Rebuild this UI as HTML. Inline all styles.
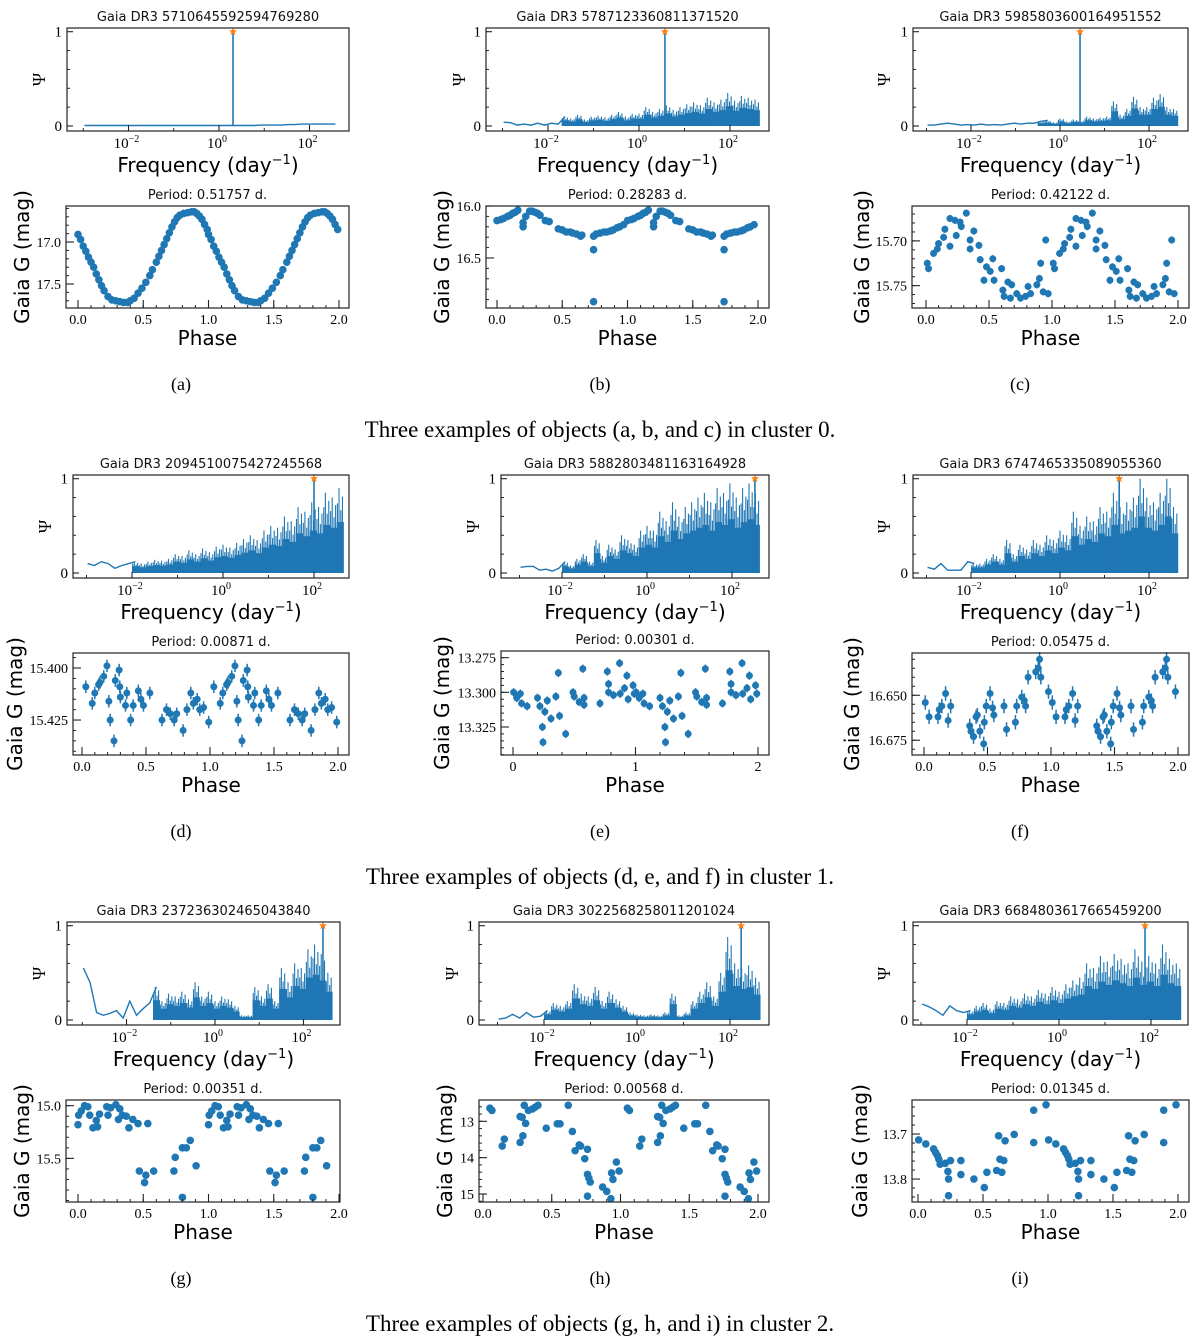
<!DOCTYPE html>
<html><head><meta charset="utf-8">
<style>
html,body{margin:0;padding:0;background:#fff;}
svg{display:block;}
.sans{font-family:"DejaVu Sans","Liberation Sans",sans-serif;}
.serif{font-family:"Liberation Serif","DejaVu Serif",serif;}
</style></head>
<body>
<svg id="fig" width="1200" height="1342" viewBox="0 0 1200 1342" xmlns="http://www.w3.org/2000/svg"></svg>
<script>
// ---- periodogram values (38 bins of 0.15 dex from log f = -3.05) ----
const pgA = [.005,.005,.005,.005,.005,.005,.005,.005,.005,.005,.005,.005,.005,.005,.005,.005,.005,.005,.005,.005,.005,.005,.005,.005,.005,.005,.01,.01,.01,.01,.015,.015,.02,.02,.02,.02,.02,.02];
const pgB = [.04,.035,.01,.02,.01,.03,.01,.03,.02,.10,.08,.12,.07,.10,.11,.09,.12,.15,.10,.13,.13,.20,.15,.18,.22,.17,.20,.23,.25,.22,.30,.25,.28,.35,.27,.32,.30,.28];
const pgC = [.01,.01,.02,.03,.02,.01,.015,.01,.02,.01,.015,.01,.02,.03,.02,.03,.03,.05,.06,.04,.08,.05,.07,.06,.1,.08,.09,.1,.26,.12,.18,.31,.2,.2,.3,.34,.2,.18];
const pgD = [.10,.08,.12,.10,.05,.08,.10,.12,.10,.12,.14,.13,.15,.20,.18,.24,.20,.26,.22,.28,.30,.27,.32,.36,.40,.35,.45,.50,.48,.60,.55,.70,.65,.75,.70,.85,.80,.90];
const pgE = [.06,.07,.07,.03,.04,.02,.05,.12,.08,.15,.20,.12,.35,.18,.30,.25,.40,.35,.30,.45,.50,.45,.65,.55,.75,.60,.70,.75,.80,.85,.75,.90,.85,.95,.80,.90,.95,.85];
const pgF = [.06,.04,.10,.03,.03,.03,.12,.10,.10,.15,.20,.15,.35,.20,.30,.25,.35,.30,.40,.35,.45,.40,.65,.50,.60,.55,.70,.65,.85,.70,.75,.80,1.0,.80,.75,.85,1.0,.70];
const pgG = [.55,.40,.08,.05,.07,.10,.02,.20,.05,.12,.18,.35,.20,.28,.25,.30,.22,.40,.25,.30,.20,.25,.22,.15,.05,.05,.35,.25,.38,.20,.55,.40,.60,.55,.75,.80,.70,.50];
const pgH = [.01,.02,.06,.02,.08,.03,.04,.10,.18,.15,.20,.38,.28,.25,.35,.20,.30,.22,.15,.08,.06,.05,.06,.05,.08,.28,.05,.08,.20,.30,.40,.25,.50,.88,.60,.55,.58,.45];
const pgI = [.17,.14,.10,.05,.15,.10,.08,.10,.15,.18,.12,.20,.18,.25,.22,.28,.25,.32,.28,.35,.30,.38,.42,.45,.60,.55,.68,.62,.70,.65,.60,.75,.62,.68,.60,.80,.65,.60];
const peakLogs = [0.31, 0.57, 0.45, 2.0, 2.54, 1.33, 2.44, 2.24, 1.87];
const denseFrom = [9, -1.7, -0.5, -2.1, -2.0, -2.0, -1.5, -2.0, -2.0];

// ---- phase-folded light curves ----
const phA = [0,.02,.04,.06,.08,.10,.12,.14,.16,.18,.20,.23,.26,.29,.32,.35,.38,.40,.43,.46,.49,.52,.55,.57,.60,.62,.64,.66,.68,.70,.72,.74,.76,.78,.81,.84,.87,.89,.91,.93,.95,.97,.99];
const mgA = [16.91,16.97,17.05,17.11,17.18,17.24,17.30,17.38,17.45,17.52,17.58,17.65,17.69,17.70,17.71,17.72,17.72,17.70,17.67,17.61,17.55,17.48,17.40,17.33,17.24,17.17,17.10,17.03,16.96,16.89,16.82,16.76,16.71,16.68,16.66,16.65,16.64,16.64,16.66,16.69,16.73,16.79,16.85];
const phB = [0,.03,.05,.08,.10,.12,.14,.16,.2,.2,.22,.25,.27,.29,.31,.33,.37,.40,.47,.50,.53,.56,.58,.61,.64,.65,.74,.74,.74,.76,.79,.82,.84,.87,.89,.92,.94,.97];
const mgB = [16.14,16.13,16.12,16.10,16.09,16.07,16.06,16.04,16.20,16.16,16.10,16.05,16.05,16.06,16.07,16.09,16.14,16.15,16.22,16.23,16.25,16.25,16.26,16.27,16.29,16.28,16.42,16.29,16.92,16.27,16.26,16.25,16.25,16.24,16.23,16.21,16.20,16.18];
const phC = [.01,.02,.06,.09,.1,.14,.15,.19,.19,.23,.24,.27,.28,.32,.35,.35,.38,.42,.43,.46,.48,.51,.53,.54,.6,.61,.62,.65,.67,.68,.72,.75,.79,.81,.83,.88,.90,.91,.93,.95,.97];
const mgC = [15.725,15.731,15.714,15.709,15.703,15.696,15.687,15.675,15.706,15.677,15.694,15.679,15.684,15.669,15.709,15.699,15.689,15.705,15.721,15.744,15.729,15.734,15.720,15.744,15.731,15.755,15.762,15.746,15.764,15.749,15.759,15.764,15.762,15.751,15.759,15.749,15.742,15.725,15.757,15.699,15.759];
const phD = [.03,.08,.10,.13,.14,.17,.195,.21,.22,.25,.26,.29,.295,.30,.34,.35,.38,.40,.44,.46,.48,.53,.625,.66,.69,.72,.74,.79,.82,.85,.87,.90,.92,.95,.99];
const mgD = [15.409,15.417,15.412,15.408,15.407,15.404,15.399,15.416,15.425,15.435,15.406,15.401,15.409,15.414,15.418,15.412,15.425,15.418,15.411,15.415,15.418,15.412,15.425,15.420,15.422,15.425,15.422,15.430,15.420,15.412,15.417,15.415,15.420,15.419,15.426];
const phE = [.005,.03,.06,.07,.115,.2,.22,.24,.245,.26,.28,.31,.35,.37,.38,.43,.49,.50,.54,.57,.58,.58,.71,.77,.78,.78,.82,.87,.875,.91,.93,.94,.98,.99];
const mgE = [13.300,13.304,13.301,13.308,13.310,13.304,13.310,13.325,13.336,13.314,13.306,13.319,13.303,13.286,13.317,13.330,13.300,13.303,13.307,13.283,13.304,13.309,13.308,13.285,13.294,13.300,13.302,13.279,13.301,13.297,13.288,13.305,13.295,13.301];
const phF = [.01,.04,.11,.12,.14,.17,.19,.21,.36,.37,.39,.41,.42,.44,.47,.475,.49,.52,.54,.55,.63,.65,.72,.73,.77,.79,.80,.82,.88,.90,.91,.92,.98];
const mgF = [16.654,16.662,16.662,16.658,16.656,16.649,16.664,16.656,16.667,16.670,16.673,16.662,16.661,16.670,16.677,16.665,16.656,16.649,16.657,16.661,16.656,16.669,16.665,16.656,16.651,16.653,16.656,16.640,16.637,16.635,16.630,16.640,16.648];
const phG = [0,.005,.025,.05,.075,.09,.115,.14,.15,.165,.22,.23,.25,.29,.31,.32,.34,.37,.39,.42,.46,.47,.51,.52,.535,.58,.735,.745,.80,.80,.83,.86,.905];
const mgG = [15.18,15.09,15.05,15.00,15.01,15.09,15.21,15.14,15.20,15.08,15.01,15.09,15.02,14.99,15.13,15.03,15.09,15.10,15.21,15.13,15.17,15.62,15.73,15.66,15.17,15.62,15.62,15.49,15.40,15.87,15.40,15.33,15.57];
const phH = [.05,.065,.14,.155,.27,.27,.285,.29,.30,.31,.33,.36,.38,.40,.46,.54,.56,.62,.65,.67,.70,.71,.74,.76,.76,.76,.77,.78,.87,.90,.93,.935,.945,.97,.99];
const mgH = [12.64,12.70,13.68,13.49,13.58,12.87,12.89,13.40,12.56,13.06,12.70,12.66,12.61,12.56,13.19,13.07,13.07,12.56,13.28,13.81,13.65,13.68,14.03,13.77,14.46,15.06,14.56,14.67,14.81,14.93,15.13,14.42,14.60,14.12,14.37];
const phI = [.005,.06,.12,.135,.15,.16,.17,.21,.23,.235,.235,.25,.33,.33,.43,.51,.53,.605,.62,.63,.645,.66,.67,.74,.89,.89,.985];
const mgI = [13.713,13.722,13.733,13.741,13.748,13.756,13.767,13.765,13.783,13.800,13.837,13.759,13.759,13.790,13.800,13.819,13.785,13.781,13.704,13.756,13.785,13.759,13.715,13.701,13.647,13.719,13.635];

// tick labels
const magTicksA = [17.0, 17.5], magTicksB = [16.0, 16.5], magTicksC = [15.70, 15.75];
const magTicksD = [15.400, 15.425], magTicksE = [13.275, 13.300, 13.325], magTicksF = [16.650, 16.675];
const magTicksG = [15.0, 15.5], magTicksH = [13, 14, 15], magTicksI = [13.7, 13.8];
const phaseTicks = [0, 0.5, 1, 1.5, 2], phaseTicksInt = [0, 1, 2];
const freqTicks = [-2, 0, 2];

const titles = ["5710645592594769280","5787123360811371520","5985803600164951552","2094510075427245568","5882803481163164928","6747465335089055360","237236302465043840","3022568258011201024","6684803617665459200"];
const periods = ["0.51757","0.28283","0.42122","0.00871","0.00301","0.05475","0.00351","0.00568","0.01345"];

const BLUE = "#1f77b4", ORANGE = "#ff7f0e", AX = "#222";
const NS = "http://www.w3.org/2000/svg";
const fig = document.getElementById("fig");
function mk(tag, attrs, parent) {
  const e = document.createElementNS(NS, tag);
  for (const k in attrs) e.setAttribute(k, attrs[k]);
  (parent || fig).appendChild(e);
  return e;
}

const cfg = [
 {pg:[67,28,349,131], pg0:219, dec:45.25, ph:[66,206,349,308], x0:78, x2:339, mt:16.571, mb:17.786, ticks:magTicksA, fmt:1, minor:0.1, pts:[phA,mgA], err:0, r:3.8, ylab:22, psi:39},
 {pg:[486,28,769,131], pg0:639, dec:45.5, ph:[486,206,769,308], x0:497, x2:758, mt:16.0, mb:16.981, ticks:magTicksB, fmt:1, minor:0.1, pts:[phB,mgB], err:0, r:3.8, ylab:442, psi:459},
 {pg:[913,28,1188,131], pg0:1060, dec:44.5, ph:[912,206,1189,308], x0:926, x2:1178, mt:15.661, mb:15.775, ticks:magTicksC, fmt:2, minor:0.01, pts:[phC,mgC], err:0.004, r:3.5, ylab:862, psi:884},
 {pg:[73,475,349,578], pg0:223, dec:45.5, ph:[73,653,349,755], x0:82, x2:338, mt:15.3928, mb:15.4418, ticks:magTicksD, fmt:3, minor:0.005, pts:[phD,mgD], err:0.003, r:3.5, ylab:15, psi:45},
 {pg:[501,475,769,578], pg0:647, dec:42.5, ph:[501,651,769,755], x0:513, x2:758, mt:13.2702, mb:13.3452, ticks:magTicksE, fmt:3, minor:0.005, pts:[phE,mgE], err:0.003, r:3.5, ylab:442, psi:473, intPhase:true},
 {pg:[913,475,1188,578], pg0:1060, dec:44.5, ph:[912,653,1189,755], x0:924, x2:1178, mt:16.6265, mb:16.6832, ticks:magTicksF, fmt:3, minor:0.005, pts:[phF,mgF], err:0.004, r:3.5, ylab:852, psi:884},
 {pg:[67,922,340,1025], pg0:215, dec:44.25, ph:[66,1100,340,1202], x0:78, x2:339, mt:14.946, mb:15.914, ticks:magTicksG, fmt:1, minor:0.1, pts:[phG,mgG], err:0, r:3.8, ylab:22, psi:39},
 {pg:[479,922,769,1025], pg0:637, dec:46.5, ph:[479,1100,769,1202], x0:483, x2:758, mt:12.414, mb:15.22, ticks:magTicksH, fmt:0, minor:0.2, pts:[phH,mgH], err:0, r:3.8, ylab:445, psi:452},
 {pg:[913,922,1188,1025], pg0:1059, dec:46, ph:[912,1100,1189,1202], x0:918, x2:1178, mt:13.6244, mb:13.851, ticks:magTicksI, fmt:1, minor:0.02, pts:[phI,mgI], err:0, r:3.8, ylab:860, psi:884}
];
const pgData = [pgA,pgB,pgC,pgD,pgE,pgF,pgG,pgH,pgI];
const spikeOffsets = [0.015, 0.05, 0.09, 0.125];
const spikeScale = [0.82, 1.0, 0.74, 0.9];

function drawPeriodogram(i) {
  const c = cfg[i], vals = pgData[i];
  const [L,T,R,B] = c.pg;
  const g = mk("g", {});
  
  
  const y0 = B - 5, y1 = T + 3.7;
  const xs = lf => c.pg0 + lf * c.dec;
  const ys = v => y0 - v * (y0 - y1);
  const t = mk("text", {x:(L+R)/2, y:T-7, "text-anchor":"middle", "font-size":13, class:"sans", fill:"#111"}, g);
  t.textContent = "Gaia DR3 " + titles[i];
  
  
  let pts = [];
  vals.forEach((v, k) => {
    const lf = -3.05 + 0.15 * k + 0.075;
    if (lf - 0.075 < denseFrom[i] + 0.15) pts.push(xs(lf).toFixed(1) + "," + ys(v).toFixed(1));
  });
  const pl = mk("polyline", {points: pts.join(" "), fill:"none", stroke:BLUE, "stroke-width":1.4}, g);
  
  
  vals.forEach((v, k) => {
    const s = -3.05 + 0.15 * k;
    if (s < denseFrom[i]) return;
    const rc = mk("rect", {x:xs(s), y:ys(v*0.6), width:xs(s+0.15)-xs(s)+0.3, height:y0-ys(v*0.6), fill:BLUE}, g);
    
    
    spikeOffsets.forEach((o, q) => {
      const sp = mk("line", {x1:xs(s+o), x2:xs(s+o), y1:y0, y2:ys(v*spikeScale[q]), stroke:BLUE, "stroke-width":1.1}, g);
      
      
    });
  });
  const px = xs(peakLogs[i]);
  const pk = mk("line", {x1:px, x2:px, y1:y0, y2:ys(1), stroke:BLUE, "stroke-width":1.6}, g);
  
  
  let sp = [];
  for (let k = 0; k < 10; k++) { const a = -Math.PI/2 + k*Math.PI/5, rr = k%2 ? 1.8 : 4.2; sp.push((px+rr*Math.cos(a)).toFixed(1)+","+(ys(1)+rr*Math.sin(a)).toFixed(1)); }
  const st = mk("polygon", {points: sp.join(" "), fill:ORANGE}, g);
  
  
  const fr = mk("rect", {x:L, y:T, width:R-L, height:B-T, fill:"none", stroke:AX, "stroke-width":1.2}, g);
  
  
  [0, 1].forEach(v => {
    mk("line", {x1:L, x2:L+6, y1:ys(v), y2:ys(v), stroke:AX, "stroke-width":1.1}, g);
    const tl = mk("text", {x:L-5, y:ys(v)+5, "text-anchor":"end", "font-size":15, class:"serif"}, g);
    tl.textContent = String(v);
    
    
  });
  [0.2,0.4,0.6,0.8].forEach(v => mk("line", {x1:L, x2:L+3, y1:ys(v), y2:ys(v), stroke:AX, "stroke-width":1}, g));
  freqTicks.forEach(k => {
    mk("line", {x1:xs(k), x2:xs(k), y1:B, y2:B-6, stroke:AX, "stroke-width":1.1}, g);
    const tl = mk("text", {x:xs(k)-2, y:B+17, "text-anchor":"middle", "font-size":15, class:"serif"}, g);
    
    
    tl.appendChild(document.createTextNode("10"));
    const sup = mk("tspan", {dy:-6, "font-size":10}, tl);
    sup.textContent = k < 0 ? "\u2212" + (-k) : String(k);
  });
  [-3,-1,1].forEach(k => mk("line", {x1:xs(k), x2:xs(k), y1:B, y2:B-3, stroke:AX, "stroke-width":1}, g));
  const ps = mk("text", {x:c.psi, y:(T+B)/2+6, "text-anchor":"middle", "font-size":18, class:"serif", transform:`rotate(-90 ${c.psi} ${(T+B)/2})`}, g);
  ps.textContent = "\u03A8";
  
  
  const xl = mk("text", {x:(L+R)/2, y:B+41, "text-anchor":"middle", "font-size":20, class:"sans"}, g);
  
  
  xl.appendChild(document.createTextNode("Frequency (day"));
  const s2 = mk("tspan", {dy:-8, "font-size":13}, xl); s2.textContent = "\u22121";
  const s3 = mk("tspan", {dy:8}, xl); s3.textContent = ")";
}

function drawPhase(i) {
  const c = cfg[i];
  const [L,T,R,B] = c.ph;
  const g = mk("g", {});
  
  
  const xs = p => c.x0 + p * (c.x2 - c.x0) / 2;
  const ys = m => T + (m - c.mt) / (c.mb - c.mt) * (B - T);
  const t = mk("text", {x:(L+R)/2, y:T-7, "text-anchor":"middle", "font-size":13, class:"sans", fill:"#111"}, g);
  t.textContent = "Period: " + periods[i] + " d.";
  
  
  const [ph, mg] = c.pts;
  [0, 1].forEach(off => {
    ph.forEach((p, k) => {
      if (c.err) {
        const eb = mk("line", {x1:xs(p+off), x2:xs(p+off), y1:ys(mg[k]-c.err), y2:ys(mg[k]+c.err), stroke:BLUE, "stroke-width":1.5}, g);
        
        
      }
      const d = mk("circle", {cx:xs(p+off), cy:ys(mg[k]), r:c.r, fill:BLUE}, g);
      
      
    });
  });
  const fr = mk("rect", {x:L, y:T, width:R-L, height:B-T, fill:"none", stroke:AX, "stroke-width":1.2}, g);
  
  
  c.ticks.forEach(m => {
    mk("line", {x1:L, x2:L+8, y1:ys(m), y2:ys(m), stroke:AX, "stroke-width":1.1}, g);
    const tl = mk("text", {x:L-5, y:ys(m)+5, "text-anchor":"end", "font-size":14, class:"serif"}, g);
    tl.textContent = m.toFixed(c.fmt);
    
    
  });
  for (let m = Math.ceil(c.mt / c.minor) * c.minor; m < c.mb; m += c.minor) {
    mk("line", {x1:L, x2:L+3, y1:ys(m), y2:ys(m), stroke:AX, "stroke-width":1}, g);
  }
  const xt = c.intPhase ? phaseTicksInt : phaseTicks;
  xt.forEach(p => {
    mk("line", {x1:xs(p), x2:xs(p), y1:B, y2:B-8, stroke:AX, "stroke-width":1.1}, g);
    const tl = mk("text", {x:xs(p), y:B+16, "text-anchor":"middle", "font-size":14, class:"serif"}, g);
    tl.textContent = c.intPhase ? String(p) : p.toFixed(1);
    
    
  });
  const mstep = c.intPhase ? 0.2 : 0.1;
  for (let p = 0; p <= 2.0001; p += mstep) mk("line", {x1:xs(p), x2:xs(p), y1:B, y2:B-3, stroke:AX, "stroke-width":1}, g);
  const cy = (T + B) / 2;
  const yl = mk("text", {x:c.ylab, y:cy+7, "text-anchor":"middle", "font-size":20, class:"sans", transform:`rotate(-90 ${c.ylab} ${cy})`}, g);
  yl.textContent = "Gaia G (mag)";
  
  
  const xl = mk("text", {x:(L+R)/2, y:B+37, "text-anchor":"middle", "font-size":20, class:"sans"}, g);
  xl.textContent = "Phase";
  
  
}

for (let i = 0; i < 9; i++) { drawPeriodogram(i); drawPhase(i); }

const letterX = [181, 600, 1020];
const capText = ["Three examples of objects (a, b, and c) in cluster 0.", "Three examples of objects (d, e, and f) in cluster 1.", "Three examples of objects (g, h, and i) in cluster 2."];
for (let r = 0; r < 3; r++) {
  for (let c = 0; c < 3; c++) {
    const lt = mk("text", {x:letterX[c], y:390 + r*447, "text-anchor":"middle", "font-size":18, class:"serif"});
    lt.textContent = "(" + "abcdefghi"[r*3+c] + ")";
    
    
  }
  const cp = mk("text", {x:600, y:437 + r*447, "text-anchor":"middle", "font-size":23, class:"serif"});
  cp.textContent = capText[r];
  
  
}
</script>
</body></html>
